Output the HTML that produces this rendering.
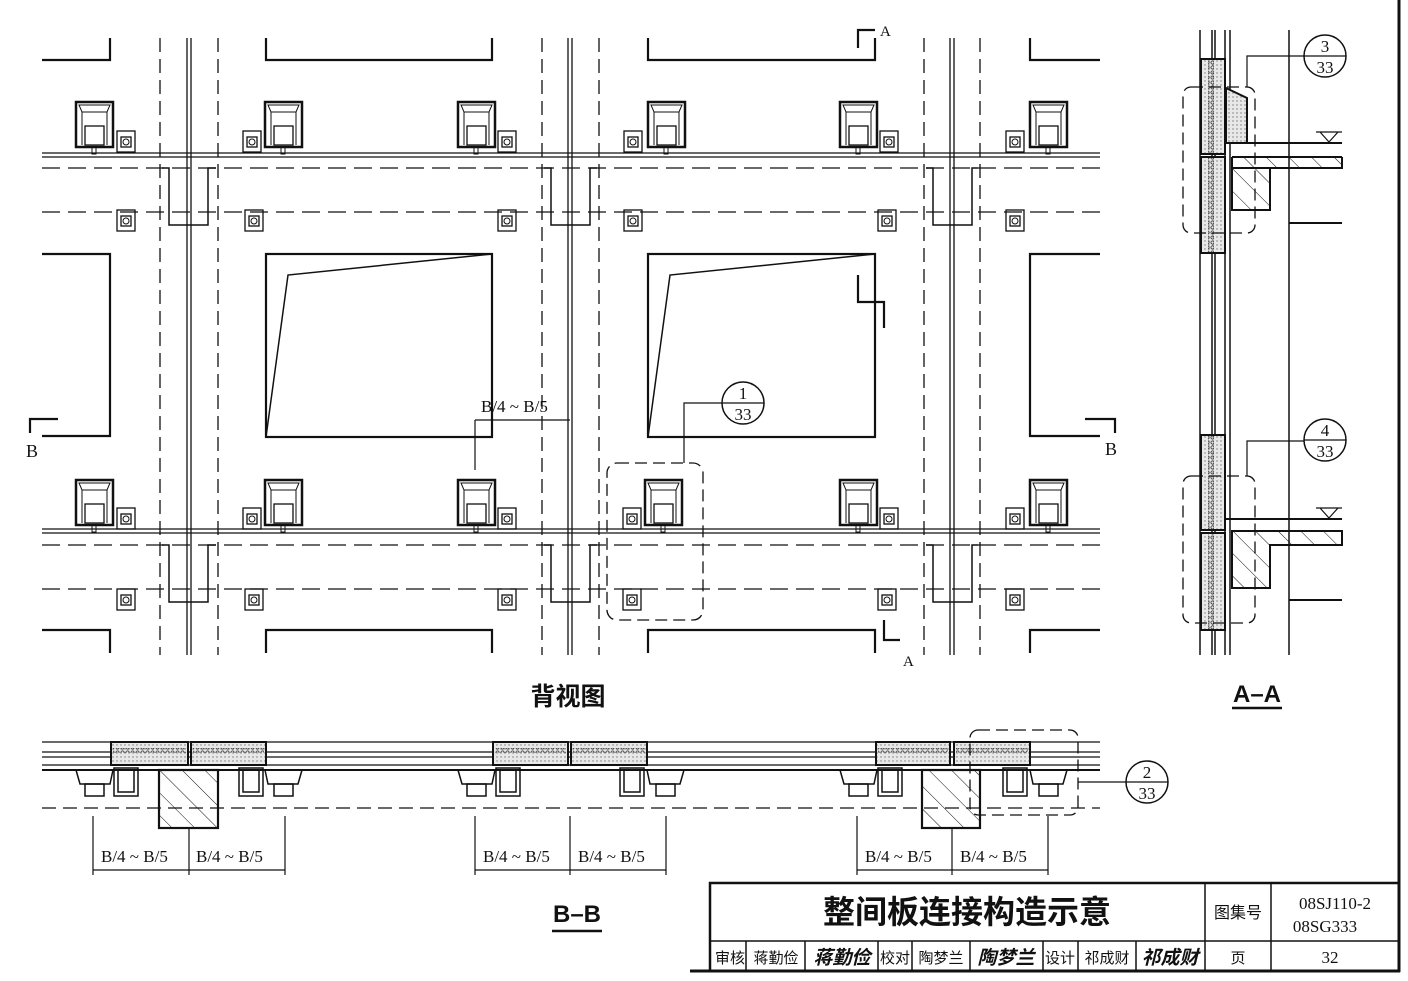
<!DOCTYPE html>
<html><head><meta charset="utf-8"><style>
html,body{margin:0;padding:0;background:#fff;}
svg{display:block;}
text{font-family:"Liberation Serif","Noto Serif CJK SC",serif;fill:#111;}
.cjk{font-family:"Liberation Sans","Noto Sans CJK SC",sans-serif;}
</style></head><body>
<svg width="1408" height="981" viewBox="0 0 1408 981" xmlns="http://www.w3.org/2000/svg">
<defs>
<symbol id="big" overflow="visible">
 <rect x="0" y="0" width="37" height="45" fill="none" stroke="#111" stroke-width="2.5"/>
 <path d="M3 3 L34 3 L31 10 L6 10 Z M6 10 L6 43 M31 10 L31 43" fill="none" stroke="#111" stroke-width="1"/>
 <rect x="9" y="24" width="19" height="19" fill="none" stroke="#111" stroke-width="1.3"/>
 <rect x="16" y="45" width="4" height="7" fill="none" stroke="#111" stroke-width="1"/>
</symbol>
<symbol id="sm" overflow="visible">
 <rect x="0" y="0" width="18" height="21" fill="none" stroke="#111" stroke-width="1.3"/>
 <rect x="4" y="6" width="10" height="10" fill="none" stroke="#111" stroke-width="1.3"/>
 <circle cx="9" cy="11" r="3" fill="none" stroke="#111" stroke-width="1"/>
</symbol>
<pattern id="hatch" patternUnits="userSpaceOnUse" width="16" height="16" patternTransform="rotate(-45)">
 <line x1="0" y1="0" x2="0" y2="16" stroke="#111" stroke-width="1"/>
</pattern>
<pattern id="dots" patternUnits="userSpaceOnUse" width="4" height="4">
 <rect width="4" height="4" fill="#e8e8e8"/><circle cx="1" cy="1" r="0.7" fill="#777"/>
</pattern>
<pattern id="beads" patternUnits="userSpaceOnUse" width="5" height="5">
 <circle cx="2.5" cy="2.5" r="1.6" fill="none" stroke="#333" stroke-width="0.8"/>
</pattern>
</defs>

<g stroke="#111" fill="none">
<g stroke-width="1.3" stroke-dasharray="14,7">
 <line x1="160" y1="38" x2="160" y2="655"/><line x1="218" y1="38" x2="218" y2="655"/>
 <line x1="542" y1="38" x2="542" y2="655"/><line x1="599" y1="38" x2="599" y2="655"/>
 <line x1="924" y1="38" x2="924" y2="655"/><line x1="980" y1="38" x2="980" y2="655"/>
</g>
<g stroke-width="1.3" stroke-dasharray="18,8">
 <line x1="42" y1="168" x2="1100" y2="168"/><line x1="42" y1="212" x2="1100" y2="212"/>
 <line x1="42" y1="545" x2="1100" y2="545"/><line x1="42" y1="589" x2="1100" y2="589"/>
</g>
<g stroke-width="1.5" fill="none">
 <path d="M162 168 H169 V225 H208 V168 H216"/>
 <path d="M544 168 H551 V225 H590 V168 H597"/>
 <path d="M926 168 H933 V225 H972 V168 H978"/>
 <path d="M162 545 H169 V602 H208 V545 H216"/>
 <path d="M544 545 H551 V602 H590 V545 H597"/>
 <path d="M926 545 H933 V602 H972 V545 H978"/>
</g>
<g stroke-width="1.3">
 <line x1="187" y1="38" x2="187" y2="655"/><line x1="191" y1="38" x2="191" y2="655"/>
 <line x1="568" y1="38" x2="568" y2="655"/><line x1="572" y1="38" x2="572" y2="655"/>
 <line x1="950" y1="38" x2="950" y2="655"/><line x1="954" y1="38" x2="954" y2="655"/>
 <line x1="42" y1="153" x2="1100" y2="153"/><line x1="42" y1="157" x2="1100" y2="157"/>
 <line x1="42" y1="529" x2="1100" y2="529"/><line x1="42" y1="533" x2="1100" y2="533"/>
</g>
<g stroke-width="2.2">
 <path d="M42 60 H110 V38"/>
 <path d="M266 38 V60 H492 V38"/>
 <path d="M648 38 V60 H875 V38"/>
 <path d="M1030 38 V60 H1100"/>
 <rect x="266" y="254" width="226" height="183"/>
 <rect x="648" y="254" width="227" height="183"/>
 <path d="M42 254 H110 V436 H42"/>
 <path d="M1100 254 H1030 V436 H1100"/>
 <path d="M266 653 V630 H492 V653"/>
 <path d="M648 653 V630 H875 V653"/>
 <path d="M1030 653 V630 H1100"/>
 <path d="M42 630 H110 V653"/>
</g>
<g stroke-width="1.5">
 <path d="M266 437 L288 275 L492 254"/>
 <path d="M648 437 L670 275 L875 254"/>
</g>
<g stroke-width="2.2">
 <path d="M858 48 V30 H875"/>
 <path d="M884 620 V640 H900"/>
 <path d="M858 275 V302 H884 V328"/>
 <path d="M58 419 H30 V433"/>
 <path d="M1085 419 H1115 V433"/>
</g>
<g stroke-width="1.2">
 <line x1="475" y1="420" x2="570" y2="420"/>
 <line x1="475" y1="420" x2="475" y2="470"/>
</g>
<rect x="607" y="463" width="96" height="157" rx="10" stroke-width="1.3" stroke-dasharray="12,6"/>
<path d="M684 463 V403 H722" stroke-width="1.2"/>
<circle cx="743" cy="403" r="21" stroke-width="1.5"/><line x1="722" y1="403" x2="764" y2="403" stroke-width="1.2"/>
</g>
<g fill="none">
 <use href="#big" x="76" y="102"/><use href="#big" x="265" y="102"/><use href="#big" x="458" y="102"/>
 <use href="#big" x="648" y="102"/><use href="#big" x="840" y="102"/><use href="#big" x="1030" y="102"/>
 <use href="#big" x="76" y="480"/><use href="#big" x="265" y="480"/><use href="#big" x="458" y="480"/>
 <use href="#big" x="645" y="480"/><use href="#big" x="840" y="480"/><use href="#big" x="1030" y="480"/>
 <use href="#sm" x="117" y="131"/><use href="#sm" x="243" y="131"/><use href="#sm" x="498" y="131"/>
 <use href="#sm" x="624" y="131"/><use href="#sm" x="880" y="131"/><use href="#sm" x="1006" y="131"/>
 <use href="#sm" x="117" y="210"/><use href="#sm" x="245" y="210"/><use href="#sm" x="498" y="210"/>
 <use href="#sm" x="624" y="210"/><use href="#sm" x="878" y="210"/><use href="#sm" x="1006" y="210"/>
 <use href="#sm" x="117" y="508"/><use href="#sm" x="243" y="508"/><use href="#sm" x="498" y="508"/>
 <use href="#sm" x="623" y="508"/><use href="#sm" x="880" y="508"/><use href="#sm" x="1006" y="508"/>
 <use href="#sm" x="117" y="589"/><use href="#sm" x="245" y="589"/><use href="#sm" x="498" y="589"/>
 <use href="#sm" x="623" y="589"/><use href="#sm" x="878" y="589"/><use href="#sm" x="1006" y="589"/>
</g>
<text x="880" y="36" font-size="15">A</text>
<text x="903" y="666" font-size="15">A</text>
<text x="26" y="457" font-size="18">B</text>
<text x="1105" y="455" font-size="18">B</text>
<text x="481" y="412" font-size="17">B/4 ~ B/5</text>
<text x="743" y="399" font-size="17" text-anchor="middle">1</text>
<text x="743" y="420" font-size="17" text-anchor="middle">33</text>
<text x="568" y="705" font-size="25" font-weight="bold" text-anchor="middle" class="cjk">背视图</text>

<g stroke="#111" fill="none">
 <g stroke-width="1.2">
  <line x1="42" y1="742" x2="1100" y2="742"/><line x1="42" y1="752" x2="1100" y2="752"/>
  <line x1="42" y1="757" x2="1100" y2="757"/><line x1="42" y1="765" x2="1100" y2="765"/>
 </g>
 <line x1="42" y1="770" x2="1100" y2="770" stroke-width="2"/>
 <line x1="42" y1="808" x2="1100" y2="808" stroke-width="1.3" stroke-dasharray="14,7"/>
 <g stroke-width="2">
  <rect x="111" y="742" width="77" height="23" fill="url(#dots)"/><rect x="191" y="742" width="75" height="23" fill="url(#dots)"/>
  <rect x="493" y="742" width="75" height="23" fill="url(#dots)"/><rect x="571" y="742" width="76" height="23" fill="url(#dots)"/>
  <rect x="876" y="742" width="74" height="23" fill="url(#dots)"/><rect x="954" y="742" width="76" height="23" fill="url(#dots)"/>
 </g>
 <g stroke-width="0" fill="url(#beads)">
  <rect x="113" y="748" width="73" height="5"/><rect x="193" y="748" width="71" height="5"/>
  <rect x="495" y="748" width="71" height="5"/><rect x="573" y="748" width="72" height="5"/>
  <rect x="878" y="748" width="70" height="5"/><rect x="956" y="748" width="72" height="5"/>
 </g>
 <g stroke-width="2.2" fill="url(#hatch)">
  <rect x="159" y="770" width="59" height="58"/><rect x="922" y="770" width="58" height="58"/>
 </g>
 <g stroke-width="1.5">
  <path d="M76 770 L80 784 H110 L113 770"/><rect x="85" y="784" width="19" height="12"/>
  <rect x="114" y="768" width="24" height="28"/><rect x="118" y="770" width="16" height="22"/>
  <rect x="239" y="768" width="24" height="28"/><rect x="243" y="770" width="16" height="22"/>
  <path d="M265 770 L268 784 H298 L302 770"/><rect x="274" y="784" width="19" height="12"/>
  <path d="M458 770 L462 784 H492 L495 770"/><rect x="467" y="784" width="19" height="12"/>
  <rect x="496" y="768" width="24" height="28"/><rect x="500" y="770" width="16" height="22"/>
  <rect x="620" y="768" width="24" height="28"/><rect x="624" y="770" width="16" height="22"/>
  <path d="M647 770 L650 784 H680 L684 770"/><rect x="656" y="784" width="19" height="12"/>
  <path d="M840 770 L844 784 H874 L877 770"/><rect x="849" y="784" width="19" height="12"/>
  <rect x="878" y="768" width="24" height="28"/><rect x="882" y="770" width="16" height="22"/>
  <rect x="1003" y="768" width="24" height="28"/><rect x="1007" y="770" width="16" height="22"/>
  <path d="M1030 770 L1033 784 H1063 L1067 770"/><rect x="1039" y="784" width="19" height="12"/>
 </g>
 <rect x="970" y="730" width="108" height="85" rx="8" stroke-width="1.3" stroke-dasharray="12,6"/>
 <line x1="1078" y1="782" x2="1126" y2="782" stroke-width="1.2"/>
 <circle cx="1147" cy="782" r="21" stroke-width="1.5"/><line x1="1126" y1="782" x2="1168" y2="782" stroke-width="1.2"/>
 <g stroke-width="1.2">
  <line x1="93" y1="870" x2="285" y2="870"/><line x1="93" y1="816" x2="93" y2="875"/><line x1="189" y1="828" x2="189" y2="875"/><line x1="285" y1="816" x2="285" y2="875"/>
  <line x1="475" y1="870" x2="666" y2="870"/><line x1="475" y1="816" x2="475" y2="875"/><line x1="570" y1="816" x2="570" y2="875"/><line x1="666" y1="816" x2="666" y2="875"/>
  <line x1="857" y1="870" x2="1048" y2="870"/><line x1="857" y1="816" x2="857" y2="875"/><line x1="952" y1="828" x2="952" y2="875"/><line x1="1048" y1="816" x2="1048" y2="875"/>
 </g>
 <line x1="552" y1="931" x2="602" y2="931" stroke-width="2.5"/>
 <line x1="1232" y1="708" x2="1282" y2="708" stroke-width="2.5"/>
</g>
<g font-size="17">
 <text x="101" y="862">B/4 ~ B/5</text><text x="196" y="862">B/4 ~ B/5</text>
 <text x="483" y="862">B/4 ~ B/5</text><text x="578" y="862">B/4 ~ B/5</text>
 <text x="865" y="862">B/4 ~ B/5</text><text x="960" y="862">B/4 ~ B/5</text>
</g>
<text x="1147" y="778" font-size="17" text-anchor="middle">2</text>
<text x="1147" y="799" font-size="17" text-anchor="middle">33</text>
<text x="577" y="922" font-size="24" font-weight="bold" text-anchor="middle" class="cjk">B–B</text>

<g stroke="#111" fill="none">
 <g stroke-width="1.5">
  <line x1="1200" y1="30" x2="1200" y2="655"/><line x1="1212" y1="30" x2="1212" y2="655"/>
  <line x1="1215" y1="30" x2="1215" y2="655"/><line x1="1225" y1="30" x2="1225" y2="655"/>
  <line x1="1230" y1="30" x2="1230" y2="655"/><line x1="1289" y1="30" x2="1289" y2="655"/>
 </g>
 <g stroke-width="2" fill="url(#dots)">
  <rect x="1201" y="59" width="24" height="95"/><rect x="1201" y="157" width="24" height="96"/>
  <rect x="1201" y="435" width="24" height="95"/><rect x="1201" y="533" width="24" height="97"/>
 </g>
 <g stroke-width="0" fill="url(#beads)">
  <rect x="1208" y="60" width="6" height="93"/><rect x="1208" y="158" width="6" height="94"/>
  <rect x="1208" y="436" width="6" height="93"/><rect x="1208" y="534" width="6" height="95"/>
 </g>
 <path d="M1226 88 L1247 98 V143 H1226 Z" fill="url(#dots)" stroke-width="2"/>
 <line x1="1226" y1="143" x2="1342" y2="143" stroke-width="2"/>
 <path d="M1316 132 L1342 132 M1320 132 L1329 142 L1338 132" stroke-width="1.2"/>
 <path d="M1232 157 H1342 M1232 168 H1342" stroke-width="2"/>
 <path d="M1232 157 V210 H1270 V168 H1342 V157" fill="url(#hatch)" stroke-width="2"/>
 <line x1="1289" y1="223" x2="1342" y2="223" stroke-width="2"/>
 <line x1="1226" y1="519" x2="1342" y2="519" stroke-width="2"/>
 <path d="M1316 508 L1342 508 M1320 508 L1329 518 L1338 508" stroke-width="1.2"/>
 <path d="M1232 531 V588 H1270 V545 H1342 V531 Z" fill="url(#hatch)" stroke-width="2"/>
 <line x1="1289" y1="600" x2="1342" y2="600" stroke-width="2"/>
 <rect x="1183" y="87" width="72" height="146" rx="8" stroke-width="1.3" stroke-dasharray="12,6"/>
 <rect x="1183" y="476" width="72" height="147" rx="8" stroke-width="1.3" stroke-dasharray="12,6"/>
 <path d="M1247 87 V56 H1304" stroke-width="1.2"/>
 <path d="M1247 476 V441 H1304" stroke-width="1.2"/>
 <circle cx="1325" cy="56" r="21" stroke-width="1.5"/><line x1="1304" y1="56" x2="1346" y2="56" stroke-width="1.2"/>
 <circle cx="1325" cy="440" r="21" stroke-width="1.5"/><line x1="1304" y1="440" x2="1346" y2="440" stroke-width="1.2"/>
</g>
<text x="1325" y="52" font-size="17" text-anchor="middle">3</text>
<text x="1325" y="73" font-size="17" text-anchor="middle">33</text>
<text x="1325" y="436" font-size="17" text-anchor="middle">4</text>
<text x="1325" y="457" font-size="17" text-anchor="middle">33</text>
<text x="1257" y="702" font-size="24" font-weight="bold" text-anchor="middle" class="cjk">A–A</text>

<g stroke="#111" fill="none">
 <line x1="1399" y1="0" x2="1399" y2="972" stroke-width="3"/>
 <line x1="690" y1="971" x2="1400" y2="971" stroke-width="3"/>
 <rect x="710" y="883" width="689" height="88" stroke-width="2.5"/>
 <line x1="710" y1="941" x2="1399" y2="941" stroke-width="1.5"/>
 <g stroke-width="1.5">
  <line x1="1205" y1="883" x2="1205" y2="971"/><line x1="1271" y1="883" x2="1271" y2="971"/>
  <line x1="746" y1="941" x2="746" y2="971"/><line x1="805" y1="941" x2="805" y2="971"/>
  <line x1="878" y1="941" x2="878" y2="971"/><line x1="912" y1="941" x2="912" y2="971"/>
  <line x1="970" y1="941" x2="970" y2="971"/><line x1="1043" y1="941" x2="1043" y2="971"/>
  <line x1="1078" y1="941" x2="1078" y2="971"/><line x1="1136" y1="941" x2="1136" y2="971"/>
 </g>
</g>
<g class="cjk">
 <text x="967" y="923" font-size="32" font-weight="bold" text-anchor="middle" class="cjk">整间板连接构造示意</text>
 <text x="1238" y="918" font-size="16" text-anchor="middle" class="cjk">图集号</text>
 <text x="1335" y="909" font-size="17" text-anchor="middle">08SJ110-2</text>
 <text x="1325" y="932" font-size="17" text-anchor="middle">08SG333</text>
 <text x="730" y="963" font-size="15" text-anchor="middle" class="cjk">审核</text>
 <text x="776" y="963" font-size="15" text-anchor="middle" class="cjk">蒋勤俭</text>
 <text x="842" y="964" font-size="19" text-anchor="middle" class="cjk" font-style="italic" font-weight="bold">蒋勤俭</text>
 <text x="895" y="963" font-size="15" text-anchor="middle" class="cjk">校对</text>
 <text x="941" y="963" font-size="15" text-anchor="middle" class="cjk">陶梦兰</text>
 <text x="1006" y="964" font-size="19" text-anchor="middle" class="cjk" font-style="italic" font-weight="bold">陶梦兰</text>
 <text x="1060" y="963" font-size="15" text-anchor="middle" class="cjk">设计</text>
 <text x="1107" y="963" font-size="15" text-anchor="middle" class="cjk">祁成财</text>
 <text x="1170" y="964" font-size="19" text-anchor="middle" class="cjk" font-style="italic" font-weight="bold">祁成财</text>
 <text x="1238" y="963" font-size="15" text-anchor="middle" class="cjk">页</text>
 <text x="1330" y="963" font-size="17" text-anchor="middle">32</text>
</g>
</svg>
</body></html>
